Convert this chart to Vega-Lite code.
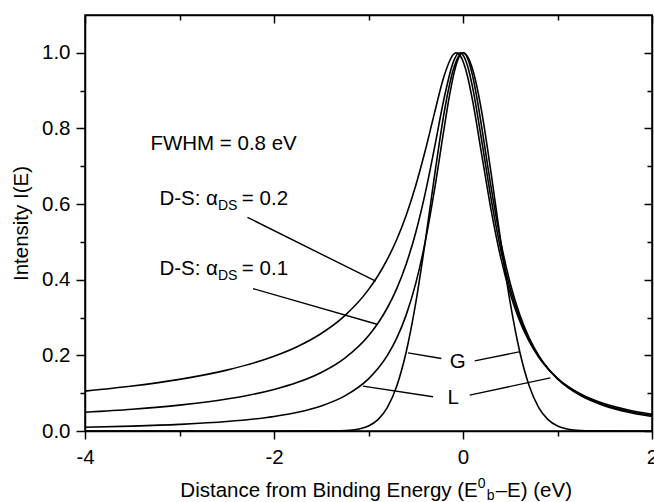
{
  "$schema": "https://vega.github.io/schema/vega-lite/v6.json",
  "width": 567,
  "height": 416,
  "autosize": {"type": "none"},
  "padding": {"left": 85, "top": 15, "right": 2, "bottom": 71},
  "background": "white",
  "config": {
    "view": {"stroke": "black", "strokeWidth": 1.5},
    "font": "Liberation Sans",
    "axis": {
      "grid": false,
      "domainColor": "black",
      "domainWidth": 1.5,
      "tickColor": "black",
      "tickWidth": 1.5,
      "labelColor": "black",
      "labelFont": "Liberation Sans",
      "labelFontSize": 20.5,
      "titleColor": "black",
      "titleFont": "Liberation Sans",
      "titleFontSize": 20.5,
      "titleFontWeight": "normal"
    },
    "text": {"font": "Liberation Sans", "color": "black"}
  },
  "datasets": {
    "curves": [
      {"s": "G", "x": -4, "y": 0},
      {"s": "G", "x": -2, "y": 0},
      {"s": "G", "x": -1.4, "y": 0.0002},
      {"s": "G", "x": -1.2, "y": 0.00195},
      {"s": "G", "x": -1.1, "y": 0.00529},
      {"s": "G", "x": -1.0, "y": 0.01314},
      {"s": "G", "x": -0.9, "y": 0.0299},
      {"s": "G", "x": -0.8, "y": 0.0625},
      {"s": "G", "x": -0.7, "y": 0.1197},
      {"s": "G", "x": -0.6, "y": 0.2102},
      {"s": "G", "x": -0.5, "y": 0.3386},
      {"s": "G", "x": -0.4, "y": 0.5},
      {"s": "G", "x": -0.3, "y": 0.6771},
      {"s": "G", "x": -0.2, "y": 0.8409},
      {"s": "G", "x": -0.15, "y": 0.9071},
      {"s": "G", "x": -0.1, "y": 0.9576},
      {"s": "G", "x": -0.05, "y": 0.9892},
      {"s": "G", "x": 0, "y": 1},
      {"s": "G", "x": 0.05, "y": 0.9892},
      {"s": "G", "x": 0.1, "y": 0.9576},
      {"s": "G", "x": 0.15, "y": 0.9071},
      {"s": "G", "x": 0.2, "y": 0.8409},
      {"s": "G", "x": 0.3, "y": 0.6771},
      {"s": "G", "x": 0.4, "y": 0.5},
      {"s": "G", "x": 0.5, "y": 0.3386},
      {"s": "G", "x": 0.6, "y": 0.2102},
      {"s": "G", "x": 0.7, "y": 0.1197},
      {"s": "G", "x": 0.8, "y": 0.0625},
      {"s": "G", "x": 0.9, "y": 0.0299},
      {"s": "G", "x": 1.0, "y": 0.01314},
      {"s": "G", "x": 1.1, "y": 0.00529},
      {"s": "G", "x": 1.2, "y": 0.00195},
      {"s": "G", "x": 1.4, "y": 0.0002},
      {"s": "G", "x": 2, "y": 0},

      {"s": "L", "x": -4, "y": 0.0099},
      {"s": "L", "x": -3.5, "y": 0.01289},
      {"s": "L", "x": -3, "y": 0.01747},
      {"s": "L", "x": -2.5, "y": 0.02496},
      {"s": "L", "x": -2, "y": 0.03846},
      {"s": "L", "x": -1.75, "y": 0.04965},
      {"s": "L", "x": -1.5, "y": 0.06639},
      {"s": "L", "x": -1.25, "y": 0.09289},
      {"s": "L", "x": -1, "y": 0.13793},
      {"s": "L", "x": -0.9, "y": 0.16495},
      {"s": "L", "x": -0.8, "y": 0.2},
      {"s": "L", "x": -0.7, "y": 0.24615},
      {"s": "L", "x": -0.6, "y": 0.30769},
      {"s": "L", "x": -0.5, "y": 0.39024},
      {"s": "L", "x": -0.4, "y": 0.5},
      {"s": "L", "x": -0.3, "y": 0.64},
      {"s": "L", "x": -0.2, "y": 0.8},
      {"s": "L", "x": -0.15, "y": 0.87671},
      {"s": "L", "x": -0.1, "y": 0.94118},
      {"s": "L", "x": -0.05, "y": 0.98462},
      {"s": "L", "x": 0, "y": 1},
      {"s": "L", "x": 0.05, "y": 0.98462},
      {"s": "L", "x": 0.1, "y": 0.94118},
      {"s": "L", "x": 0.15, "y": 0.87671},
      {"s": "L", "x": 0.2, "y": 0.8},
      {"s": "L", "x": 0.3, "y": 0.64},
      {"s": "L", "x": 0.4, "y": 0.5},
      {"s": "L", "x": 0.5, "y": 0.39024},
      {"s": "L", "x": 0.6, "y": 0.30769},
      {"s": "L", "x": 0.7, "y": 0.24615},
      {"s": "L", "x": 0.8, "y": 0.2},
      {"s": "L", "x": 0.9, "y": 0.16495},
      {"s": "L", "x": 1, "y": 0.13793},
      {"s": "L", "x": 1.25, "y": 0.09289},
      {"s": "L", "x": 1.5, "y": 0.06639},
      {"s": "L", "x": 1.75, "y": 0.04965},
      {"s": "L", "x": 2, "y": 0.03846},

      {"s": "DS1", "x": -4, "y": 0.0496},
      {"s": "DS1", "x": -3.5, "y": 0.0575},
      {"s": "DS1", "x": -3, "y": 0.0684},
      {"s": "DS1", "x": -2.5, "y": 0.0844},
      {"s": "DS1", "x": -2, "y": 0.1097},
      {"s": "DS1", "x": -1.75, "y": 0.1287},
      {"s": "DS1", "x": -1.5, "y": 0.1549},
      {"s": "DS1", "x": -1.25, "y": 0.193},
      {"s": "DS1", "x": -1, "y": 0.252},
      {"s": "DS1", "x": -0.9, "y": 0.285},
      {"s": "DS1", "x": -0.8, "y": 0.3259},
      {"s": "DS1", "x": -0.7, "y": 0.3773},
      {"s": "DS1", "x": -0.6, "y": 0.4423},
      {"s": "DS1", "x": -0.5, "y": 0.525},
      {"s": "DS1", "x": -0.4, "y": 0.6283},
      {"s": "DS1", "x": -0.3, "y": 0.7512},
      {"s": "DS1", "x": -0.2, "y": 0.8798},
      {"s": "DS1", "x": -0.1, "y": 0.9775},
      {"s": "DS1", "x": -0.05, "y": 0.9986},
      {"s": "DS1", "x": -0.03, "y": 1.0},
      {"s": "DS1", "x": 0, "y": 0.9942},
      {"s": "DS1", "x": 0.05, "y": 0.9636},
      {"s": "DS1", "x": 0.1, "y": 0.9105},
      {"s": "DS1", "x": 0.2, "y": 0.7643},
      {"s": "DS1", "x": 0.3, "y": 0.6102},
      {"s": "DS1", "x": 0.4, "y": 0.4786},
      {"s": "DS1", "x": 0.5, "y": 0.3761},
      {"s": "DS1", "x": 0.6, "y": 0.299},
      {"s": "DS1", "x": 0.7, "y": 0.2413},
      {"s": "DS1", "x": 0.8, "y": 0.1977},
      {"s": "DS1", "x": 0.9, "y": 0.1644},
      {"s": "DS1", "x": 1, "y": 0.1386},
      {"s": "DS1", "x": 1.25, "y": 0.0951},
      {"s": "DS1", "x": 1.5, "y": 0.069},
      {"s": "DS1", "x": 1.75, "y": 0.0524},
      {"s": "DS1", "x": 2, "y": 0.0411},

      {"s": "DS2", "x": -4, "y": 0.1055},
      {"s": "DS2", "x": -3.5, "y": 0.1188},
      {"s": "DS2", "x": -3, "y": 0.1365},
      {"s": "DS2", "x": -2.5, "y": 0.161},
      {"s": "DS2", "x": -2, "y": 0.1976},
      {"s": "DS2", "x": -1.75, "y": 0.2236},
      {"s": "DS2", "x": -1.5, "y": 0.2579},
      {"s": "DS2", "x": -1.25, "y": 0.3052},
      {"s": "DS2", "x": -1, "y": 0.3738},
      {"s": "DS2", "x": -0.9, "y": 0.4104},
      {"s": "DS2", "x": -0.8, "y": 0.4542},
      {"s": "DS2", "x": -0.7, "y": 0.5071},
      {"s": "DS2", "x": -0.6, "y": 0.5714},
      {"s": "DS2", "x": -0.5, "y": 0.6491},
      {"s": "DS2", "x": -0.4, "y": 0.7409},
      {"s": "DS2", "x": -0.3, "y": 0.8426},
      {"s": "DS2", "x": -0.2, "y": 0.9387},
      {"s": "DS2", "x": -0.1, "y": 0.9963},
      {"s": "DS2", "x": -0.075, "y": 0.9999},
      {"s": "DS2", "x": -0.05, "y": 0.9981},
      {"s": "DS2", "x": 0, "y": 0.9776},
      {"s": "DS2", "x": 0.05, "y": 0.9354},
      {"s": "DS2", "x": 0.1, "y": 0.8756},
      {"s": "DS2", "x": 0.2, "y": 0.728},
      {"s": "DS2", "x": 0.3, "y": 0.581},
      {"s": "DS2", "x": 0.4, "y": 0.4579},
      {"s": "DS2", "x": 0.5, "y": 0.3626},
      {"s": "DS2", "x": 0.6, "y": 0.2908},
      {"s": "DS2", "x": 0.7, "y": 0.2367},
      {"s": "DS2", "x": 0.8, "y": 0.1957},
      {"s": "DS2", "x": 0.9, "y": 0.1642},
      {"s": "DS2", "x": 1, "y": 0.1395},
      {"s": "DS2", "x": 1.25, "y": 0.0974},
      {"s": "DS2", "x": 1.5, "y": 0.0719},
      {"s": "DS2", "x": 1.75, "y": 0.0553},
      {"s": "DS2", "x": 2, "y": 0.0439}
    ],
    "leaders": [
      {"x": -2.281, "y": 0.565, "x2": -0.924, "y2": 0.396},
      {"x": -2.222, "y": 0.3765, "x2": -0.91, "y2": 0.2823},
      {"x": -0.582, "y": 0.2066, "x2": -0.229, "y2": 0.1917},
      {"x": 0.124, "y": 0.1855, "x2": 0.593, "y2": 0.2092},
      {"x": -1.058, "y": 0.1187, "x2": -0.317, "y2": 0.0905},
      {"x": 0.071, "y": 0.095, "x2": 0.925, "y2": 0.1406}
    ],
    "textLeft": [
      {"t": "FWHM = 0.8 eV", "x": -3.308, "y": 0.759},
      {"t": "= 0.2", "x": -2.34, "y": 0.614},
      {"t": "= 0.1", "x": -2.34, "y": 0.429},
      {"t": "G", "x": -0.141, "y": 0.183},
      {"t": "L", "x": -0.164, "y": 0.086},
      {"t": "–E) (eV)", "x": 0.346, "y": -0.1596}
    ],
    "textRight": [
      {"t": "D-S: α", "x": -2.593, "y": 0.614},
      {"t": "D-S: α", "x": -2.593, "y": 0.429},
      {"t": "Distance from Binding Energy (E", "x": 0.156, "y": -0.1596}
    ],
    "textSmall": [
      {"t": "DS", "x": -2.593, "y": 0.596},
      {"t": "DS", "x": -2.593, "y": 0.411},
      {"t": "0", "x": 0.156, "y": -0.14},
      {"t": "b", "x": 0.251, "y": -0.1715}
    ]
  },
  "layer": [
    {
      "data": {"name": "curves"},
      "mark": {"type": "line", "color": "black", "strokeWidth": 1.6, "interpolate": "monotone"},
      "encoding": {
        "x": {
          "field": "x", "type": "quantitative",
          "scale": {"domain": [-4, 2], "nice": false, "zero": false},
          "axis": {
            "orient": "bottom",
            "values": [-4, -3, -2, -1, 0, 1, 2],
            "labelExpr": "abs(datum.value) % 2 == 0 ? '' + datum.value : ''",
            "tickSize": {"condition": {"test": "abs(datum.value) % 2 == 0", "value": 8}, "value": 5},
            "labelPadding": 8,
            "labelFlush": false,
            "title": null
          }
        },
        "y": {
          "field": "y", "type": "quantitative",
          "scale": {"domain": [0, 1.1], "nice": false, "zero": false},
          "axis": {
            "orient": "left",
            "values": [0, 0.1, 0.2, 0.3, 0.4, 0.5, 0.6, 0.7, 0.8, 0.9, 1.0],
            "labelExpr": "round(datum.value * 10) % 2 == 0 ? format(datum.value, '.1f') : ''",
            "tickSize": {"condition": {"test": "round(datum.value * 10) % 2 == 0", "value": 9}, "value": 5},
            "labelPadding": 6,
            "labelFlush": false,
            "title": "Intensity I(E)",
            "titlePadding": 10
          }
        },
        "detail": {"field": "s", "type": "nominal"}
      }
    },
    {
      "data": {"name": "leaders"},
      "mark": {"type": "rule", "color": "black", "strokeWidth": 1.4},
      "encoding": {
        "x": {
          "field": "x", "type": "quantitative",
          "scale": {"domain": [-4, 2], "nice": false, "zero": false},
          "axis": {
            "orient": "top",
            "values": [-4, -3, -2, -1, 0, 1, 2],
            "labels": false,
            "tickSize": {"condition": {"test": "abs(datum.value) % 2 == 0", "value": -8}, "value": -5},
            "title": null
          }
        },
        "y": {
          "field": "y", "type": "quantitative",
          "scale": {"domain": [0, 1.1], "nice": false, "zero": false},
          "axis": {
            "orient": "right",
            "values": [0, 0.1, 0.2, 0.3, 0.4, 0.5, 0.6, 0.7, 0.8, 0.9, 1.0],
            "labels": false,
            "tickSize": {"condition": {"test": "round(datum.value * 10) % 2 == 0", "value": -8}, "value": -5},
            "title": null
          }
        },
        "x2": {"field": "x2"},
        "y2": {"field": "y2"}
      }
    },
    {
      "data": {"name": "textLeft"},
      "mark": {"type": "text", "align": "left", "baseline": "middle", "fontSize": 20.5},
      "encoding": {
        "x": {"field": "x", "type": "quantitative", "scale": {"domain": [-4, 2], "nice": false, "zero": false}, "axis": null},
        "y": {"field": "y", "type": "quantitative", "scale": {"domain": [0, 1.1], "nice": false, "zero": false}, "axis": null},
        "text": {"field": "t"}
      }
    },
    {
      "data": {"name": "textRight"},
      "mark": {"type": "text", "align": "right", "baseline": "middle", "fontSize": 20.5},
      "encoding": {
        "x": {"field": "x", "type": "quantitative", "scale": {"domain": [-4, 2], "nice": false, "zero": false}, "axis": null},
        "y": {"field": "y", "type": "quantitative", "scale": {"domain": [0, 1.1], "nice": false, "zero": false}, "axis": null},
        "text": {"field": "t"}
      }
    },
    {
      "data": {"name": "textSmall"},
      "mark": {"type": "text", "align": "left", "baseline": "middle", "fontSize": 14},
      "encoding": {
        "x": {"field": "x", "type": "quantitative", "scale": {"domain": [-4, 2], "nice": false, "zero": false}, "axis": null},
        "y": {"field": "y", "type": "quantitative", "scale": {"domain": [0, 1.1], "nice": false, "zero": false}, "axis": null},
        "text": {"field": "t"}
      }
    }
  ],
  "resolve": {"axis": {"x": "independent", "y": "independent"}}
}
